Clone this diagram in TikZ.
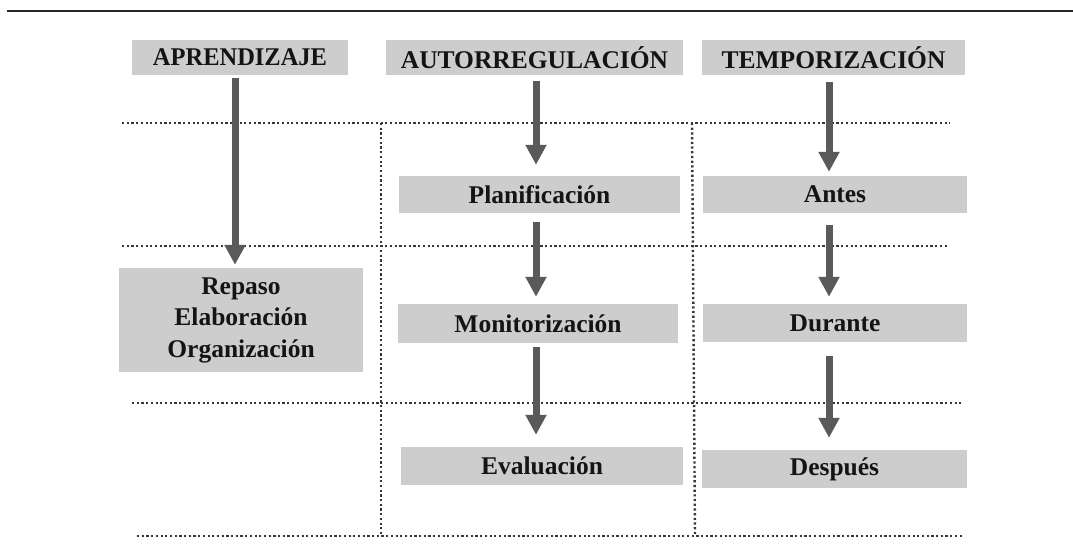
\documentclass[tikz,border=0pt]{standalone}
\usepackage{fontspec}
\setmainfont{Liberation Serif}
\usetikzlibrary{arrows.meta}
\definecolor{boxgray}{RGB}{205,205,205}
\definecolor{arrgray}{RGB}{90,90,90}
\definecolor{dotgray}{RGB}{55,55,55}
\definecolor{txt}{RGB}{20,20,20}
\tikzset{
  gbox/.style={fill=boxgray, draw=none, inner sep=0pt, align=center, text=txt,
    font=\fontsize{25.5}{31.5}\selectfont\bfseries},
  arr/.style={draw=arrgray, line width=7pt, -{Triangle[width=20pt,length=20pt]}},
  dotline/.style={draw=dotgray, line width=2.4pt, dash pattern=on 2.2pt off 2.5pt},
}
\begin{document}
\begin{tikzpicture}[x=1pt,y=-1pt]
\useasboundingbox (0,0) rectangle (1073,556);
% top rule
\draw[line width=2.6pt, black!85] (7,11) -- (1073,11);

% dotted grid
\draw[dotline] (122,123) -- (950,123);
\draw[dotline] (122,246) -- (947,246);
\draw[dotline] (132,403) -- (961,403);
\draw[dotline] (137,536) -- (964,536);
\draw[dotline] (381,123) -- (381,536);
\draw[dotline] (692,123) -- (695,536);

% header boxes
\node[gbox, minimum width=216pt, minimum height=35pt] (h1) at (240,57.5) {\scalebox{0.96}[1]{APRENDIZAJE}};
\node[gbox, minimum width=297pt, minimum height=35pt] (h2) at (534.5,57.5) {AUTORREGULACIÓN};
\node[gbox, minimum width=263pt, minimum height=35pt] (h3) at (833.5,57.5) {TEMPORIZACIÓN};

% content boxes
\node[gbox, minimum width=244pt, minimum height=104pt] (rep) at (241,320) {Repaso\\Elaboración\\Organización};
\node[gbox, minimum width=281pt, minimum height=37pt] (plan) at (539.5,194.5) {Planificación};
\node[gbox, minimum width=280pt, minimum height=39pt] (mon) at (538,323.5) {Monitorización};
\node[gbox, minimum width=282pt, minimum height=38pt] (eval) at (542,466) {Evaluación};
\node[gbox, minimum width=264pt, minimum height=37pt] (antes) at (835,194.5) {Antes};
\node[gbox, minimum width=264pt, minimum height=38pt] (dur) at (835,323) {Durante};
\node[gbox, minimum width=265pt, minimum height=38pt] (desp) at (834.5,469) {Después};

% arrow columns
\coordinate (xl) at (235,0);
\coordinate (xm) at (536,0);
\coordinate (xr) at (829,0);

\draw[arr, shorten <=3pt, shorten >=3pt] (h1.south -| xl) -- (rep.north -| xl);
\draw[arr, shorten <=6pt, shorten >=11pt] (h2.south -| xm) -- (plan.north -| xm);
\draw[arr, shorten <=9pt, shorten >=7pt] (plan.south -| xm) -- (mon.north -| xm);
\draw[arr, shorten <=4pt, shorten >=12pt] (mon.south -| xm) -- (eval.north -| xm);
\draw[arr, shorten <=7pt, shorten >=4pt] (h3.south -| xr) -- (antes.north -| xr);
\draw[arr, shorten <=12pt, shorten >=7pt] (antes.south -| xr) -- (dur.north -| xr);
\draw[arr, shorten <=14pt, shorten >=12pt] (dur.south -| xr) -- (desp.north -| xr);
\end{tikzpicture}
\end{document}
